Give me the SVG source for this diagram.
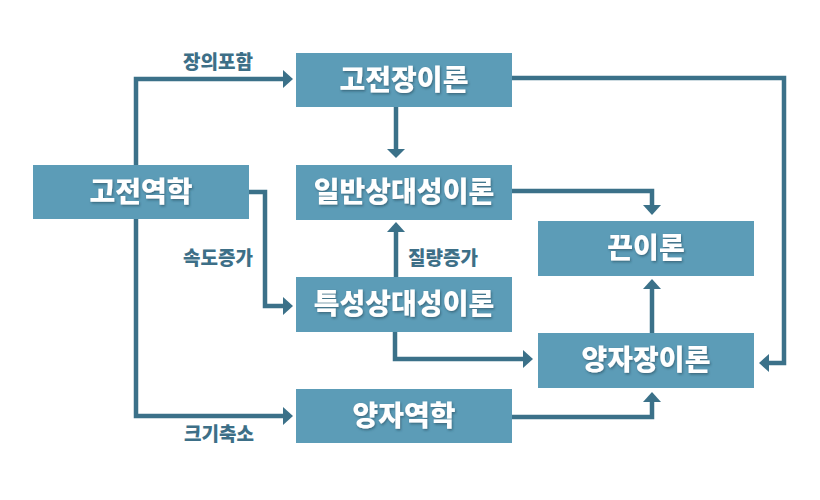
<svg xmlns="http://www.w3.org/2000/svg" width="820" height="500" viewBox="0 0 820 500">
<defs>
<style>
.box{fill:#5c9cb7;}
.nt{font-family:"Noto Sans CJK KR","Noto Sans",sans-serif;font-weight:900;font-size:28px;fill:#ffffff;text-anchor:middle;filter:url(#sh);}
.lb{font-family:"Noto Sans CJK KR","Noto Sans",sans-serif;font-weight:900;font-size:19px;fill:#3d6f87;text-anchor:middle;}
.ln{fill:none;stroke:#3b7189;stroke-width:4.5;}
.ah{fill:#3b7189;}
</style>
<filter id="sh" x="-10%" y="-30%" width="120%" height="160%">
<feDropShadow dx="1" dy="1.5" stdDeviation="1" flood-color="#1f3f50" flood-opacity="0.55"/>
</filter>
</defs>
<rect width="820" height="500" fill="#ffffff"/>
<g id="connectors">
<path class="ln" d="M136,165 V79 H284"/>
<polygon class="ah" points="283,70 293,79 283,88"/>
<path class="ln" d="M249,192 H265 V306 H284"/>
<polygon class="ah" points="283,297 293,306 283,315"/>
<path class="ln" d="M136,219 V416 H284"/>
<polygon class="ah" points="283,407 293,416 283,425"/>
<path class="ln" d="M396,107 V150"/>
<polygon class="ah" points="387,149 396,158 405,149"/>
<path class="ln" d="M512,78 H784 V363 H768"/>
<polygon class="ah" points="769,354 759,363 769,372"/>
<path class="ln" d="M512,191 H652 V206"/>
<polygon class="ah" points="643,205 652,215 661,205"/>
<path class="ln" d="M396,277 V231"/>
<polygon class="ah" points="387,232 396,222 405,232"/>
<path class="ln" d="M395,332 V359 H524"/>
<polygon class="ah" points="523,350 533,359 523,368"/>
<path class="ln" d="M652,333 V288"/>
<polygon class="ah" points="643,289 652,279 661,289"/>
<path class="ln" d="M512,417 H652 V401"/>
<polygon class="ah" points="643,402 652,392 661,402"/>
<text class="lb" x="218" y="69">장의포함</text>
<text class="lb" x="218" y="265">속도증가</text>
<text class="lb" x="443" y="265">질량증가</text>
<text class="lb" x="219" y="441">크기축소</text>
</g>
<g id="n-classical-mechanics">
<rect class="box" x="33" y="165" width="216" height="54"/>
<text class="nt" x="141" y="202">고전역학</text>
</g>
<g id="n-classical-field">
<rect class="box" x="296" y="53" width="216" height="54"/>
<text class="nt" x="404" y="90">고전장이론</text>
</g>
<g id="n-general-relativity">
<rect class="box" x="296" y="165" width="216" height="55"/>
<text class="nt" x="404" y="202">일반상대성이론</text>
</g>
<g id="n-special-relativity">
<rect class="box" x="296" y="277" width="216" height="55"/>
<text class="nt" x="404" y="314">특성상대성이론</text>
</g>
<g id="n-string">
<rect class="box" x="538" y="221" width="216" height="55"/>
<text class="nt" x="646" y="258">끈이론</text>
</g>
<g id="n-qft">
<rect class="box" x="538" y="333" width="216" height="55"/>
<text class="nt" x="646" y="370">양자장이론</text>
</g>
<g id="n-quantum-mechanics">
<rect class="box" x="296" y="389" width="216" height="54"/>
<text class="nt" x="404" y="426">양자역학</text>
</g>
</svg>
